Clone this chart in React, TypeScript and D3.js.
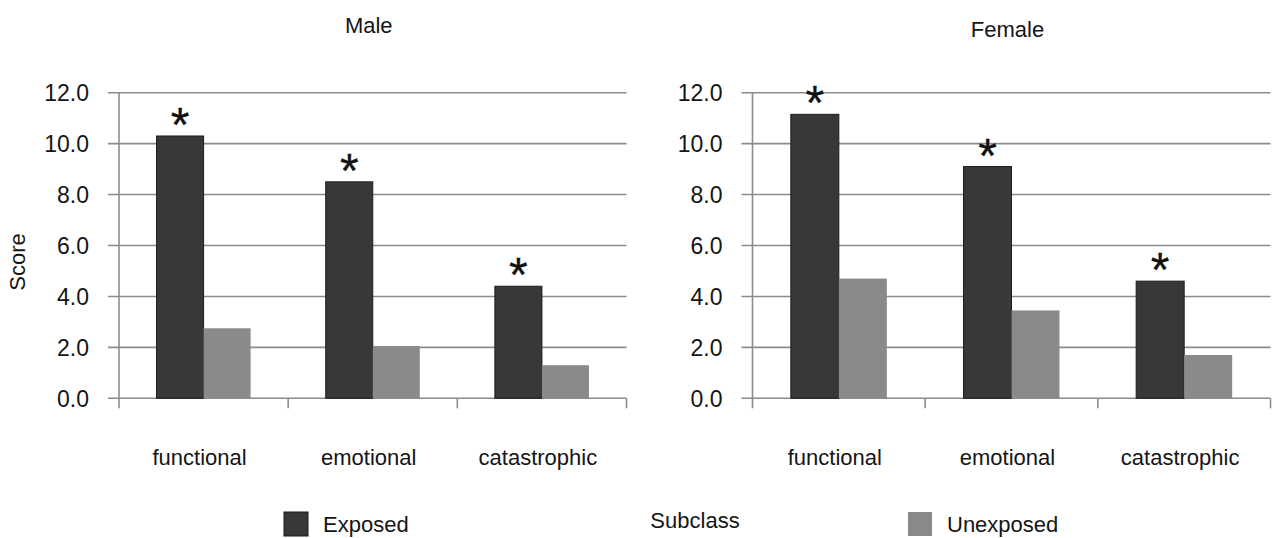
import React, {useEffect, useRef} from 'react';
import * as d3 from "d3";

// data
const categories = ["functional", "emotional", "catastrophic"];
const seriesNames = ["Exposed", "Unexposed"];
const maleExposed = [10.3, 8.5, 4.4];
const maleUnexposed = [2.75, 2.05, 1.3];
const femaleExposed = [11.15, 9.1, 4.6];
const femaleUnexposed = [4.7, 3.45, 1.7];
const yTicks = [0, 2, 4, 6, 8, 10, 12];
const starred = ["functional", "emotional", "catastrophic"];

const colors = {Exposed: "#383838", Unexposed: "#8a8a8a"};
const font = "'Liberation Sans', Arial, Helvetica, sans-serif";

function App(){

    const ref = useRef(null)
    const width = 1273
    const height = 538

    useEffect(() => {
        d3.select(ref.current).selectAll("*").remove()
        draw()
    }, [])

    function draw(){
        const svg = d3.select(ref.current)

        const y = d3.scaleLinear()
        .domain([0, 12])
        .range([398.3, 92.7])

        const panels = [
            {title: "Male", left: 119, right: 626.5, titleY: 33, exposed: maleExposed, unexposed: maleUnexposed},
            {title: "Female", left: 752.5, right: 1270.5, titleY: 37, exposed: femaleExposed, unexposed: femaleUnexposed}
        ]

        panels.forEach(p => {
            const g = svg.append("g")

            const x = d3.scaleBand()
            .domain(categories)
            .range([p.left, p.right])
            .paddingInner(0.444)
            .paddingOuter(0.222)

            const x1 = d3.scaleBand()
            .domain(seriesNames)
            .range([0, x.bandwidth()])

            // gridlines
            g.selectAll(".grid")
            .data(yTicks)
            .enter()
            .append("line")
            .attr("x1", p.left - 11)
            .attr("x2", p.right)
            .attr("y1", d => y(d))
            .attr("y2", d => y(d))
            .style("stroke", "#8c8c8c")
            .style("stroke-width", 1.6)

            // y tick labels
            g.selectAll(".ylab")
            .data(yTicks)
            .enter()
            .append("text")
            .attr("x", p.left - 30)
            .attr("y", d => y(d))
            .attr("dy", "0.36em")
            .style("text-anchor", "end")
            .style("font-family", font)
            .style("font-size", "23px")
            .style("fill", "#151515")
            .text(d => d3.format(".1f")(d))

            // y axis line
            g.append("line")
            .attr("x1", p.left).attr("x2", p.left)
            .attr("y1", y(12)).attr("y2", y(0) + 10)
            .style("stroke", "#8c8c8c")
            .style("stroke-width", 1.6)

            // x tick marks between categories
            const step = x.step()
            g.selectAll(".xtick")
            .data(categories)
            .enter()
            .append("line")
            .attr("x1", d => x(d) - step * 0.222 + step)
            .attr("x2", d => x(d) - step * 0.222 + step)
            .attr("y1", y(0))
            .attr("y2", y(0) + 10)
            .style("stroke", "#8c8c8c")
            .style("stroke-width", 1.6)

            // bars
            const rows = categories.map((c, i) => ({c, Exposed: p.exposed[i], Unexposed: p.unexposed[i]}))
            rows.forEach(r => {
                seriesNames.forEach(s => {
                    g.append("rect")
                    .attr("x", x(r.c) + x1(s))
                    .attr("y", y(r[s]))
                    .attr("width", x1.bandwidth())
                    .attr("height", y(0) - y(r[s]))
                    .style("fill", colors[s])
                    .style("stroke", s == "Exposed" ? "#1c1c1c" : "none")
                    .style("stroke-width", 1)
                })
                if (starred.includes(r.c)){
                    g.append("text")
                    .attr("x", x(r.c) + x1("Exposed") + x1.bandwidth() / 2)
                    .attr("y", y(r.Exposed) + 5)
                    .style("text-anchor", "middle")
                    .style("font-family", font)
                    .style("font-size", "48px")
                    .style("fill", "#111")
                    .style("stroke", "#111")
                    .style("stroke-width", 0.3)
                    .text("*")
                }
            })

            // category labels
            g.selectAll(".xlab")
            .data(categories)
            .enter()
            .append("text")
            .attr("x", d => x(d) + x.bandwidth() / 2 - 4)
            .attr("y", 465)
            .style("text-anchor", "middle")
            .style("font-family", font)
            .style("font-size", "22px")
            .style("fill", "#151515")
            .text(d => d)

            // panel title
            g.append("text")
            .attr("x", (p.left + p.right) / 2 - 4)
            .attr("y", p.titleY)
            .style("text-anchor", "middle")
            .style("font-family", font)
            .style("font-size", "22px")
            .style("fill", "#151515")
            .text(p.title)
        })

        // y axis title
        svg.append("text")
        .attr("transform", "translate(25, 262) rotate(-90)")
        .style("text-anchor", "middle")
        .style("font-family", font)
        .style("font-size", "22px")
        .style("fill", "#151515")
        .text("Score")

        // x axis title
        svg.append("text")
        .attr("x", 695)
        .attr("y", 528)
        .style("text-anchor", "middle")
        .style("font-family", font)
        .style("font-size", "22px")
        .style("fill", "#151515")
        .text("Subclass")

        // legend
        const legendX = [284, 908]
        seriesNames.forEach((s, i) => {
            svg.append("rect")
            .attr("x", legendX[i])
            .attr("y", 512)
            .attr("width", 24)
            .attr("height", 24)
            .style("fill", colors[s])
            .style("stroke", s == "Exposed" ? "#1c1c1c" : "none")
            svg.append("text")
            .attr("x", legendX[i] + 39)
            .attr("y", 532)
            .style("font-family", font)
            .style("font-size", "22px")
            .style("fill", "#151515")
            .text(s)
        })
    }

    return(
        <svg ref={ref} width={width} height={height}
            style={{position: "absolute", left: 0, top: 0, background: "#fff"}}></svg>
    )
}

export default App;
